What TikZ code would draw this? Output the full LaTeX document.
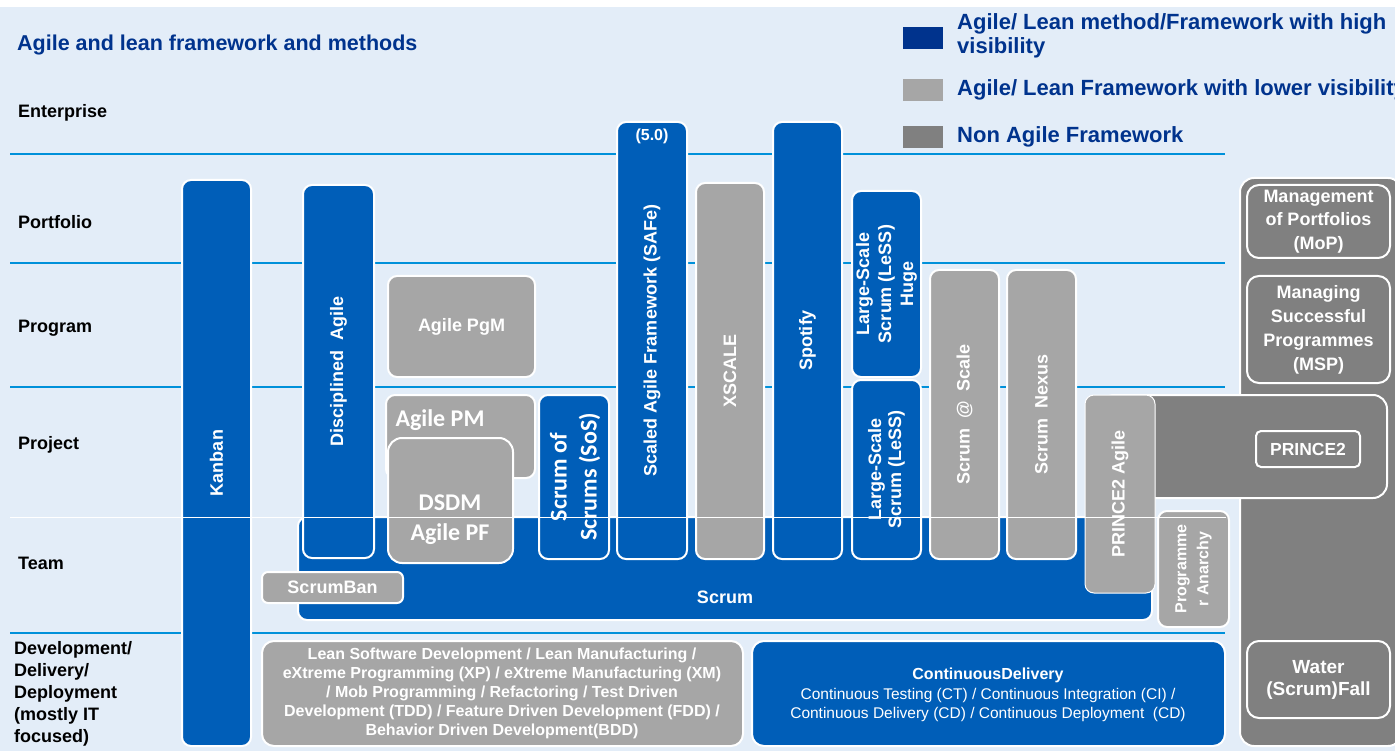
\documentclass[tikz,border=0pt]{standalone}
\usepackage{fontspec}
\setmainfont{Liberation Sans}
\newfontfamily\calib{Carlito}
\usetikzlibrary{fit}
\definecolor{bgblue}{HTML}{E3EDF8}
\definecolor{kblue}{HTML}{005EB8}
\definecolor{navy}{HTML}{00338D}
\definecolor{lgray}{HTML}{A6A6A6}
\definecolor{dgray}{HTML}{808080}
\definecolor{cyanl}{HTML}{0091DA}
\newcommand\fsz[2]{\fontsize{#1}{#2}\selectfont}
\begin{document}
\begin{tikzpicture}[x=1pt,y=-1pt,
 box/.style={draw=white, line width=2pt, rounded corners=9pt, inner sep=0pt},
 bbox/.style={box, fill=kblue},
 lbox/.style={box, fill=lgray},
 gbox/.style={box, fill=dgray},
 vt/.style={rotate=90, text=white, font=\bfseries\fsz{18}{20}, align=center, inner sep=0pt},
 ht/.style={text=white, font=\bfseries\fsz{18}{23}, align=center, inner sep=0pt},
 ct/.style={text=white, font=\calib\bfseries\fsz{24}{30}, align=center, inner sep=0pt},
 rowlab/.style={anchor=west, font=\bfseries\fsz{18}{22}, align=left, inner sep=0pt},
 sepline/.style={cyanl, line width=2.5pt},
 legsq/.style={minimum width=40pt, minimum height=22pt, inner sep=0pt},
 legtxt/.style={anchor=west, text=navy, font=\bfseries\fsz{22}{24}, align=left, inner sep=0pt},
]
\fill[white] (0,0) rectangle (1395,751);
\fill[bgblue] (0,7) rectangle (1395,751);
\useasboundingbox (0,0) rectangle (1395,751);

% title and legend
\node[anchor=west, text=navy, font=\bfseries\fsz{21.5}{24}, inner sep=0pt] (title) at (17,45) {Agile and lean framework and methods};
\node[legsq, fill=navy] (sq1) at (923,38) {};
\node[legsq, fill=lgray] (sq2) at (923,90) {};
\node[legsq, fill=dgray] (sq3) at (923,137) {};
\node[legtxt] (leg1) at (957,36) {Agile/ Lean method/Framework with high\\visibility};
\node[legtxt] (leg2) at (957,90) {Agile/ Lean Framework with lower visibility};
\node[legtxt] (leg3) at (957,137) {Non Agile Framework};

% row labels
\node[rowlab] (rEnt) at (18,113) {Enterprise};
\node[rowlab] (rPort) at (18,222) {Portfolio};
\node[rowlab] (rProg) at (18,328) {Program};
\node[rowlab] (rProj) at (18,445) {Project};
\node[rowlab] (rTeam) at (18,563) {Team};
\node[rowlab] (rDev) at (14,694) {Development/\\Delivery/\\Deployment\\(mostly IT\\focused)};

% separator lines
\draw[sepline] (10,154) -- (1225,154);
\draw[sepline] (10,263) -- (1225,263);
\draw[sepline] (10,387) -- (1225,387);
\draw[sepline] (10,633) -- (1225,633);

% boxes
\node[bbox, fit={(182,180) (251,746)}] (kanban) {};
\node[bbox, fit={(298,517) (1152,620)}] (scrum) {};
\node[bbox, fit={(303,185) (374,558)}] (da) {};
\node[lbox, rounded corners=6pt, fit={(262,572) (403,603)}] (scrumban) {};
\node[lbox, fit={(388,276) (535,377)}] (pgm) {};
\node[lbox, fit={(386,395) (535,478)}] (apm) {};
\node[lbox, rounded corners=14pt, fit={(388,438) (513,563)}] (dsdm) {};
\node[bbox, fit={(539,395) (609,559)}] (sos) {};
\node[bbox, fit={(617,122) (687,559)}] (safe) {};
\node[lbox, fit={(696,183) (764,559)}] (xscale) {};
\node[bbox, fit={(773,122) (842,559)}] (spotify) {};
\node[bbox, fit={(852,191) (921,377)}] (lessh) {};
\node[bbox, fit={(852,380) (921,559)}] (less) {};
\node[lbox, fit={(930,270) (999,559)}] (sats) {};
\node[lbox, fit={(1007,270) (1076,559)}] (nexus) {};

\node[gbox, rounded corners=14pt, fit={(1240,178) (1402,746)}] (col) {};
\node[gbox, rounded corners=12pt, fit={(1247,185) (1390,258)}] (mop) {};
\node[gbox, rounded corners=12pt, fit={(1247,276) (1390,383)}] (msp) {};
\node[gbox, rounded corners=12pt, fit={(1247,641) (1390,718)}] (water) {};
\node[gbox, rounded corners=14pt, fit={(1100,395) (1387,498)}] (p2) {};
\node[gbox, rounded corners=5pt, fit={(1256,431) (1360,467)}] (p2in) {};
\node[lbox, line width=1pt, fit={(1085,395) (1155,593)}] (p2a) {};
\node[lbox, fit={(1158,511) (1229,627)}] (pa) {};

\node[lbox, rounded corners=12pt, fit={(262,641) (743,746)}] (lean) {};
\node[bbox, rounded corners=12pt, fit={(752,641) (1225,746)}] (cd) {};

% white team separator on top
\draw[white, line width=1pt] (10,517) -- (1226,517);

% texts
\node[vt] (tKanban) at (kanban.center) {Kanban};
\node[vt] (tDA) at (da.center) {Disciplined~~Agile};
\node[vt] (tSafe) at (safe.center) {Scaled~Agile~Framework~(SAFe)};
\node[ht, font=\bfseries\fsz{16}{18}] (t50) at (652,136) {(5.0)};
\node[vt] (tXscale) at (xscale.center) {XSCALE};
\node[vt] (tSpotify) at (spotify.center) {Spotify};
\node[vt, font=\bfseries\fsz{18}{22}] (tLessh) at (lessh.center) {Large-Scale\\Scrum~(LeSS)\\Huge};
\node[vt] (tLess) at (less.center) {Large-Scale\\Scrum~(LeSS)};
\node[vt] (tSats) at (sats.center) {Scrum~~@~~Scale};
\node[vt] (tNexus) at (nexus.center) {Scrum~~Nexus};
\node[vt] (tP2a) at (p2a.center) {PRINCE2 Agile};
\node[vt, font=\bfseries\fsz{16}{22}] (tPa) at (pa.center) {Programme\\r Anarchy};
\node[vt, font=\calib\bfseries\fsz{24}{30}] (tSos) at (575,477) {Scrum of\\Scrums (SoS)};

\node[ht] (tScrum) at (725,597) {Scrum};
\node[ht] (tScrumban) at (scrumban.center) {ScrumBan};
\node[ht] (tPgm) at (pgm.center) {Agile PgM};
\node[ct] (tApm) at (440,420) {Agile PM};
\node[ct] (tDsdm) at (450,520) {DSDM\\Agile PF};

\node[ht, font=\bfseries\fsz{18}{23.5}] (tMop) at (mop.center) {Management\\of Portfolios\\(MoP)};
\node[ht, font=\bfseries\fsz{18}{24}] (tMsp) at (msp.center) {Managing\\Successful\\Programmes\\(MSP)};
\node[ht, font=\bfseries\fsz{17.5}{20}] (tP2) at (p2in.center) {PRINCE2};
\node[ht, font=\bfseries\fsz{19}{22}] (tWater) at (water.center) {Water\\(Scrum)Fall};

\node[ht, font=\bfseries\fsz{16}{19}] (tLean) at (502,693) {Lean Software Development / Lean Manufacturing /\\eXtreme Programming (XP) / eXtreme Manufacturing (XM)\\/ Mob Programming / Refactoring / Test Driven\\Development (TDD) / Feature Driven Development (FDD) /\\Behavior Driven Development(BDD)};
\node[ht, font=\fsz{15.5}{19.5}] (tCd) at (988,695) {{\bfseries\fsz{16}{19.5}ContinuousDelivery}\\Continuous Testing (CT) / Continuous Integration (CI) /\\Continuous Delivery (CD) / Continuous Deployment~~(CD)};
\end{tikzpicture}
\end{document}
